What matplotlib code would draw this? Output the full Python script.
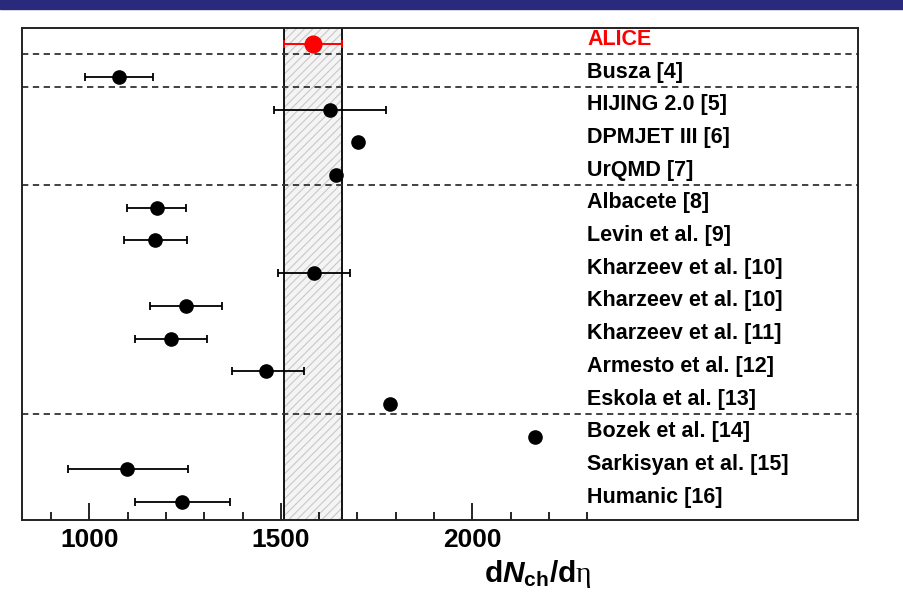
import matplotlib
matplotlib.use("Agg")
import matplotlib.pyplot as plt
from matplotlib.patches import Rectangle
import numpy as np

plt.rcParams['font.family'] = ['Liberation Sans', 'DejaVu Sans']
plt.rcParams['mathtext.fontset'] = 'custom'
plt.rcParams['mathtext.rm'] = 'Liberation Sans:bold'
plt.rcParams['mathtext.it'] = 'Liberation Sans:italic:bold'
plt.rcParams['mathtext.bf'] = 'Liberation Sans:bold'
plt.rcParams['mathtext.sf'] = 'Liberation Serif'
plt.rcParams['hatch.color'] = '#c8c8c8'
plt.rcParams['hatch.linewidth'] = 0.8

# ---- data ----
alice_value = 1584
alice_low = 1508
alice_high = 1660

models = ["Busza [4]", "HIJING 2.0 [5]", "DPMJET III [6]", "UrQMD [7]",
          "Albacete [8]", "Levin et al. [9]", "Kharzeev et al. [10]",
          "Kharzeev et al. [10]", "Kharzeev et al. [11]", "Armesto et al. [12]",
          "Eskola et al. [13]", "Bozek et al. [14]", "Sarkisyan et al. [15]",
          "Humanic [16]"]
values = [1078, 1628, 1702, 1644, 1176, 1171, 1587, 1252, 1212, 1460, 1785, 2164, 1099, 1243]
err_lo = [89, 146, 0, 0, 77, 80, 94, 94, 92, 87, 0, 0, 154, 124]
err_hi = [89, 147, 0, 0, 75, 84, 94, 94, 95, 101, 0, 0, 159, 123]
has_err = [True, True, False, False, True, True, True, True, True, True, False, False, True, True]
separators = [0.29, 1.31, 4.3, 11.3]

major_ticks = [1000, 1500, 2000]
tick_labels = ["1000", "1500", "2000"]
minor_ticks = [900, 1100, 1200, 1300, 1400, 1600, 1700, 1800, 1900, 2100, 2200, 2300]

W, H = 904, 593
fig = plt.figure(figsize=(W / 100, H / 100), dpi=100)
# top banner
fig.patches.append(Rectangle((0, 1 - 9 / H), 1, 9 / H, transform=fig.transFigure,
                             color='#2a2a7c', zorder=0))

ax = fig.add_axes([22 / W, (H - 520) / H, (858 - 22) / W, (520 - 28) / H])
ax.set_xlim(824, 3007)
ax.set_ylim(14.55, -0.5)

label_shift = -0.15

# systematic band
ax.axvspan(alice_low, alice_high, facecolor='#f4f4f4', edgecolor='#c8c8c8',
           hatch='////', linewidth=0, zorder=1)
ax.axvline(alice_low, color='black', lw=1.3, zorder=2)
ax.axvline(alice_high, color='black', lw=1.3, zorder=2)

for s in separators:
    ax.axhline(s, color='#333333', lw=1.3, ls=(0, (3.5, 2.5)), zorder=2)

# ALICE
ax.errorbar([alice_value], [0], xerr=[[alice_value - alice_low], [alice_high - alice_value]],
            fmt='o', color='#ff0000', ms=12, elinewidth=1.4, capsize=3, capthick=1.3, zorder=4)
ax.text(2300, 0 + label_shift, "ALICE", color='#ff0000', fontsize=15.5, fontweight='bold',
        va='center', ha='left')

ys = np.arange(1, len(models) + 1)
for y, v, lo, hi, e, name in zip(ys, values, err_lo, err_hi, has_err, models):
    if e:
        ax.errorbar([v], [y], xerr=[[lo], [hi]], fmt='o', color='black', ms=9.5,
                    elinewidth=1.3, capsize=3, capthick=1.3, zorder=4)
    else:
        ax.plot([v], [y], 'o', color='black', ms=9.5, zorder=4)
    ax.text(2300, y + label_shift, name, color='black', fontsize=15.5, fontweight='bold',
            va='center', ha='left')

ax.set_xticks(major_ticks)
ax.set_xticklabels(tick_labels, fontsize=19, fontweight='bold')
ax.set_xticks(minor_ticks, minor=True)
ax.tick_params(axis='x', which='major', direction='in', length=12, width=1.2, pad=6)
ax.tick_params(axis='x', which='minor', direction='in', length=6, width=1.2)
ax.set_yticks([])
for sp in ax.spines.values():
    sp.set_linewidth(1.4)
    sp.set_color('#222222')

fig.text(592 / W, (H - 582) / H, r'$\mathrm{d}N_{\mathrm{ch}}/\mathrm{d}\mathsf{\eta}$',
         fontsize=21.5, ha='right', va='baseline')

fig.savefig("out.png", dpi=100)
